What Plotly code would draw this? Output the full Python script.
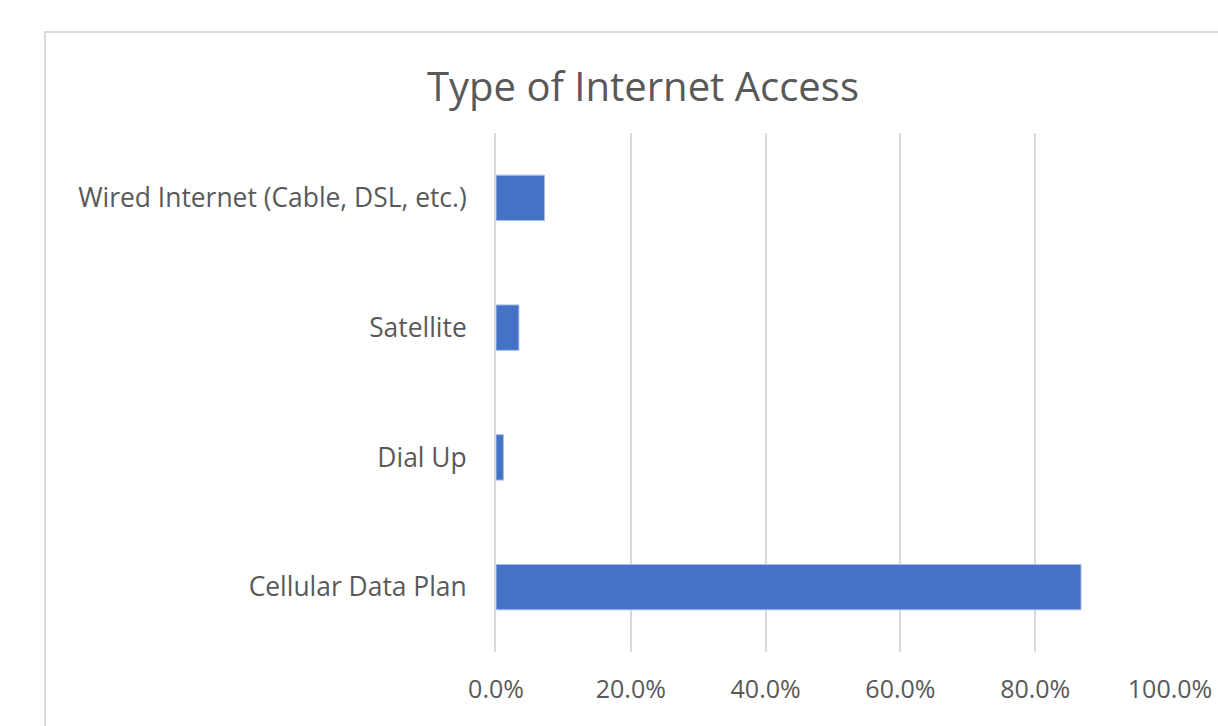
import plotly.graph_objects as go

categories = ["Cellular Data Plan", "Dial Up", "Satellite", "Wired Internet (Cable, DSL, etc.)"]
values = [0.868, 0.011, 0.034, 0.072]
tick_vals = [0, 0.2, 0.4, 0.6, 0.8, 1.0]
tick_text = ["0.0%", "20.0%", "40.0%", "60.0%", "80.0%", "100.0%"]

W, H = 1218, 726
L, R, T, B = 496, 48, 133, 74
pw, ph = W - L - R, H - T - B

fig = go.Figure(go.Bar(
    x=values, y=categories, orientation="h",
    marker=dict(color="#4472C4", line=dict(color="#a9bfe6", width=1)),
    width=0.35,
))

font_family = "Open Sans, Lato, sans-serif"
fig.update_layout(
    width=W, height=H,
    margin=dict(l=L, r=R, t=T, b=B, autoexpand=False),
    paper_bgcolor="white", plot_bgcolor="white",
    title=dict(text="Type of Internet Access", x=(643) / W, xanchor="center",
               y=1 - 87 / H, yanchor="middle",
               font=dict(family=font_family, size=40, color="#595959")),
    xaxis=dict(range=[0, 1.0], tickvals=tick_vals, ticktext=tick_text,
               showgrid=True, gridcolor="#d9d9d9", gridwidth=1.5,
               zeroline=False, showline=False, ticks="", automargin=False,
               tickfont=dict(family=font_family, size=25, color="#595959"),
               ticklabelstandoff=20),
    yaxis=dict(showgrid=False, zeroline=False, showline=True, linecolor="#d9d9d9",
               linewidth=2, ticks="", ticklabelstandoff=22, automargin=False,
               tickfont=dict(family=font_family, size=26.4, color="#595959")),
    showlegend=False,
    shapes=[dict(type="rect", xref="paper", yref="paper",
                 x0=(45 - L) / pw, x1=(1240 - L) / pw,
                 y0=(H - B - 760) / ph, y1=(H - B - 32) / ph,
                 line=dict(color="#d9d9d9", width=2), fillcolor="rgba(0,0,0,0)",
                 layer="below")],
)

fig.write_html("out.html")
